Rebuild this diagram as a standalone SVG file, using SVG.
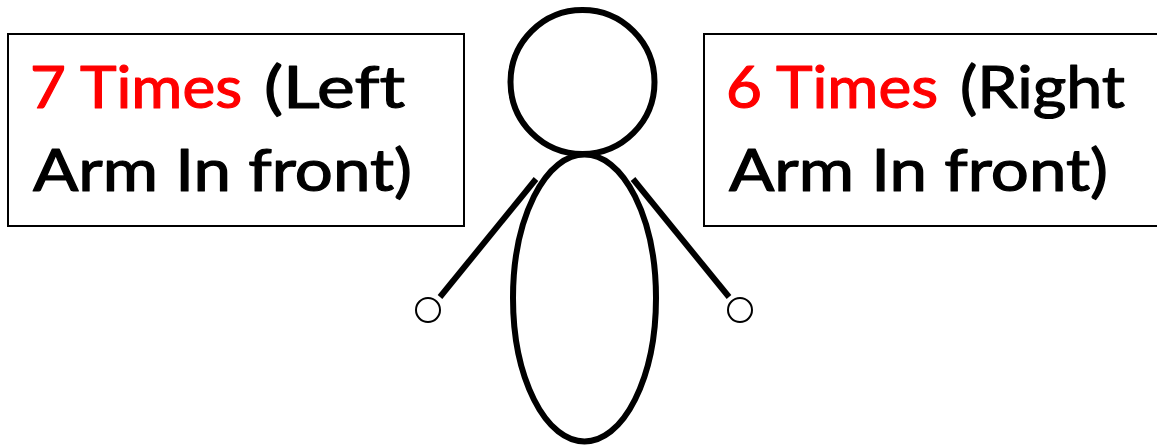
<svg xmlns="http://www.w3.org/2000/svg" width="1157" height="446" viewBox="0 0 1157 446">
<style>
.box{fill:#fff;stroke:#000;stroke-width:2}
.body{fill:none;stroke:#000;stroke-width:6}
.hand{fill:#fff;stroke:#000;stroke-width:2}
.arm{stroke:#000;stroke-width:6;fill:none}
text{font-family:"Lato","Noto Sans",sans-serif;font-size:58px;font-variant-ligatures:none;fill:#000;stroke:#000;stroke-width:1.2;stroke-linejoin:round}
text.r{fill:#f00;stroke:#f00}
</style>
<rect width="1157" height="446" fill="#fff"/>
<g id="left-label"><rect class="box" x="8" y="34" width="456" height="192"/>
<text class="r" x="30" y="108" textLength="212" lengthAdjust="spacingAndGlyphs">7 Times</text>
<text x="264" y="108" textLength="141" lengthAdjust="spacingAndGlyphs">(Left</text>
<text x="33" y="191" textLength="379" lengthAdjust="spacingAndGlyphs">Arm In front)</text></g>
<g id="right-label"><rect class="box" x="704" y="34" width="460" height="192"/>
<text class="r" x="726" y="108" textLength="212" lengthAdjust="spacingAndGlyphs">6 Times</text>
<text x="960" y="108" textLength="165" lengthAdjust="spacingAndGlyphs">(Right</text>
<text x="729" y="191" textLength="379" lengthAdjust="spacingAndGlyphs">Arm In front)</text></g>
<g id="head"><circle class="body" cx="582.500" cy="82" r="72"/></g>
<g id="torso"><ellipse class="body" cx="584.500" cy="298" rx="71.500" ry="143.500"/></g>
<g id="left-hand"><circle class="hand" cx="428" cy="310" r="12"/></g>
<g id="right-hand"><circle class="hand" cx="740" cy="310" r="12"/></g>
<g id="connectors"><line class="arm" x1="536" y1="179" x2="440" y2="297"/><line class="arm" x1="633" y1="179" x2="729" y2="297"/></g>
</svg>
